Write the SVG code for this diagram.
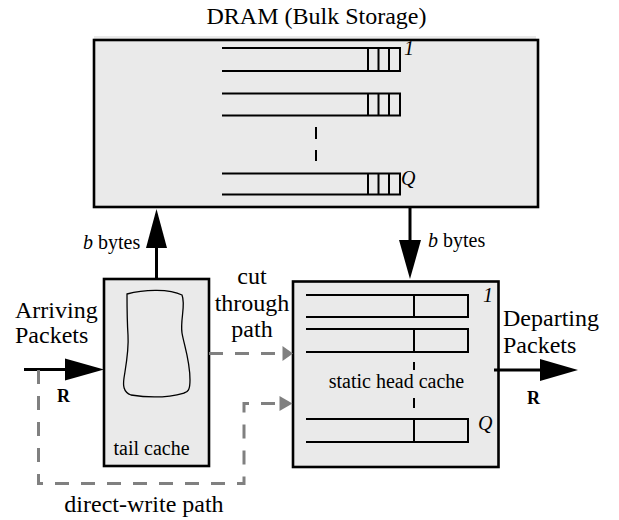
<svg xmlns="http://www.w3.org/2000/svg" width="619" height="520" viewBox="0 0 619 520">
  <style>
    text { font-family: 'Liberation Serif', 'DejaVu Serif', serif; fill: #000; }
    .box { fill: #eaeaea; stroke: #000; stroke-width: 2.6; }
    .fill { fill: #eaeaea; stroke: none; }
    .q { fill: none; stroke: #000; stroke-width: 2; }
    .link { fill: none; stroke: #000; stroke-width: 3; }
    .tip { fill: #000; stroke: none; }
    .path { fill: none; stroke: #808080; stroke-width: 3; stroke-dasharray: 14 12; }
    .gtip { fill: #808080; stroke: none; }
    .lbl { font-size: 20px; }
    .big { font-size: 24px; }
    .it { font-style: italic; }
    .bold { font-weight: bold; font-size: 18px; }
  </style>

  <!-- DRAM bulk storage with per-queue FIFOs -->
  <g id="dram">
    <rect class="fill" x="94" y="36" width="442" height="8"/>
    <rect class="box" x="94" y="40" width="444" height="167"/>
    <text class="big" x="316.5" y="24" text-anchor="middle" font-family="Liberation Serif, serif">DRAM (Bulk Storage)</text>
    <!-- queue 1 -->
    <path class="q" d="M222,48 H400 V71 H222 M368,48 V71 M378.5,48 V71 M389,48 V71"/>
    <!-- queue 2 -->
    <path class="q" d="M222,93.5 H400 V115.5 H222 M368,93.5 V115.5 M378.5,93.5 V115.5 M389,93.5 V115.5"/>
    <!-- queue Q -->
    <path class="q" d="M222,173.5 H400 V194.5 H222 M368,173.5 V194.5 M378.5,173.5 V194.5 M389,173.5 V194.5"/>
    <path class="q" d="M316,127 V139 M316,150 V161"/>
    <text class="lbl it" x="404" y="55">1</text>
    <text class="lbl it" x="401" y="185">Q</text>
  </g>

  <!-- tail cache -->
  <g id="tail-cache">
    <rect class="box" x="104" y="279" width="105" height="187"/>
    <path fill="none" stroke="#000" stroke-width="1.3" d="M127,294 C145,289 170,289 182,295 C186,305 180,320 182,333 C184,345 190,360 190,380 C190,390 188,392 184,393 C170,397 150,398 131,395 C123,392 123,385 124,378 C126,365 129,350 128,335 C127,320 127,305 127,294 Z"/>
    <text class="lbl" x="151.5" y="455" text-anchor="middle">tail cache</text>
  </g>

  <!-- static head cache -->
  <g id="head-cache">
    <rect class="box" x="293" y="281.5" width="205.5" height="185.5"/>
    <path class="q" d="M306,295 H468 V317 H306 M414,295 V317"/>
    <path class="q" d="M306,329 H468 V352 H306 M414,329 V352"/>
    <path class="q" d="M306,419 H468 V442 H306 M414,419 V442"/>
    <path class="q" d="M414,362 V370 M414,398 V408"/>
    <text class="lbl" x="396.5" y="388" text-anchor="middle">static head cache</text>
    <text class="lbl it" x="483" y="302">1</text>
    <text class="lbl it" x="478" y="430">Q</text>
  </g>

  <!-- free-standing labels -->
  <g id="labels">
    <text class="big" x="15" y="318">Arriving</text>
    <text class="big" x="15" y="343">Packets</text>
    <text class="bold" x="57" y="402">R</text>
    <text class="big" x="503" y="326">Departing</text>
    <text class="big" x="503" y="353">Packets</text>
    <text class="bold" x="527" y="404">R</text>
    <text class="big" x="252" y="284" text-anchor="middle">cut</text>
    <text class="big" x="252" y="311" text-anchor="middle">through</text>
    <text class="big" x="252" y="337" text-anchor="middle">path</text>
    <text class="big" x="144" y="512" text-anchor="middle">direct-write path</text>
    <text class="lbl" x="83" y="249"><tspan class="it">b</tspan> bytes</text>
    <text class="lbl" x="428" y="247"><tspan class="it">b</tspan> bytes</text>
  </g>

  <!-- connectors -->
  <g id="connectors">
    <!-- tail cache to DRAM -->
    <line class="link" x1="156.5" y1="279" x2="156.5" y2="246"/>
    <polygon class="tip" points="146,248 167,248 156.5,209"/>
    <!-- DRAM to head cache -->
    <line class="link" x1="410" y1="207" x2="410" y2="242"/>
    <polygon class="tip" points="399,240 421,240 410,279"/>
    <!-- arriving packets -->
    <line class="link" x1="24" y1="369.5" x2="67" y2="369.5"/>
    <polygon class="tip" points="65,358.5 65,380.5 104,369.5"/>
    <!-- departing packets -->
    <line class="link" x1="494" y1="370" x2="542" y2="370"/>
    <polygon class="tip" points="540,359 540,381 578,370"/>
    <!-- cut-through path -->
    <path class="path" d="M209,353.5 H283"/>
    <polygon class="gtip" points="282.5,346 282.5,361 293,353.5"/>
    <!-- direct-write path -->
    <path class="path" d="M38.5,370 V483.5 H244 V403.5 H281"/>
    <polygon class="gtip" points="279.5,396 279.5,411 292.5,403.5"/>
  </g>
</svg>
